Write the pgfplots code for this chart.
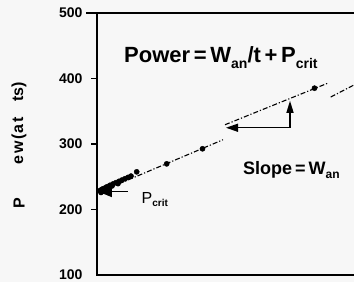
\documentclass[border=0pt]{standalone}
\usepackage{pgfplots}
\pgfplotsset{compat=1.18}
\usepackage{fontspec}
\setmainfont{Liberation Sans}
\usetikzlibrary{arrows.meta}
\begin{document}
\begin{tikzpicture}[x=1pt,y=1pt]
\path[use as bounding box, clip] (0,0) rectangle (354,282);
\fill[white!97!black] (0,0) rectangle (354,282);
\begin{axis}[
  at={(97pt,7pt)}, anchor=south west,
  scale only axis, width=300pt, height=262pt,
  xmin=0, xmax=3, ymin=100, ymax=500,
  xtick=\empty,
  ytick={100,200,300,400,500},
  major tick length=0pt,
  /pgf/number format/assume math mode=true,
  yticklabel style={font=\fontsize{14}{14}\selectfont\bfseries, xshift=-11pt},
  axis line style={line width=1.3pt},
  clip=false,
]
% fitted line, drawn in three offset pieces as in the original
\addplot[black, line width=1.1pt, dash pattern=on 5pt off 2pt on 1.2pt off 2pt]
  coordinates {(0.03,227) (1.26,306.5)};
\addplot[black, line width=1.1pt, dash pattern=on 5pt off 2pt on 1.2pt off 2pt]
  coordinates {(1.28,329.4) (2.32,393.6)};
\addplot[black, line width=1.1pt, dash pattern=on 5pt off 2pt on 1.2pt off 2pt]
  coordinates {(2.337,371.7) (2.60,392.5)};
% data points
\addplot[only marks, mark=*, mark size=2.6pt, black] coordinates {
 (0.03,229) (0.04,226) (0.05,231) (0.06,228) (0.07,232) (0.08,230) (0.09,234)
 (0.11,235) (0.12,233) (0.13,237) (0.15,236)
 (0.16,239) (0.19,241) (0.21,239.5) (0.22,243) (0.25,245) (0.28,247) (0.31,249)
 (0.34,251) (0.397,257.5) (0.697,269.7) (1.055,292.7) (2.175,385.2)};
% ticks
\draw[line width=1.3pt] (axis cs:0,200) -- ++(-6pt,0pt);
\draw[line width=1.3pt] (axis cs:0,300) -- ++(-6pt,0pt);
\draw[line width=1.3pt] (axis cs:0,400) -- ++(-6pt,0pt);
\draw[line width=1.3pt] (axis cs:0,500) -- ++(-11pt,0pt);
% P_crit arrow
\draw[line width=1.3pt, -{Triangle[length=14pt,width=11pt]}] (axis cs:0.31,227.4) -- (axis cs:0.01,227.4);
% slope triangle
\draw[line width=1.3pt, -{Triangle[length=12pt,width=8pt]}] (axis cs:1.93,324.8) -- (axis cs:1.29,324.8);
\draw[line width=1.3pt, -{Triangle[length=12pt,width=7pt]}] (axis cs:1.93,324.8) -- (axis cs:1.93,366);
\end{axis}
\node[anchor=base west, inner sep=0] at (124,219)
  {\fontsize{22}{26}\selectfont\bfseries Power\,=\,W\raisebox{-5pt}{\fontsize{14}{14}\selectfont an}/t\,+\,P\raisebox{-5pt}{\fontsize{14}{14}\selectfont crit}};
\node[anchor=base west, inner sep=0] at (243,108)
  {\fontsize{18}{20}\selectfont\bfseries Slope\,=\,W\raisebox{-4pt}{\fontsize{12}{12}\selectfont an}};
\node[anchor=base west, inner sep=0] at (141.5,79)
  {\fontsize{16}{18}\selectfont P\raisebox{-3pt}{\fontsize{10}{10}\selectfont\bfseries crit}};
\node[rotate=90, inner sep=0] at (19,79) {\fontsize{16}{18}\selectfont\bfseries P};
\node[rotate=90, inner sep=0] at (19,141) {\fontsize{16}{18}\selectfont\bfseries e\kern2pt w\kern2pt (a\kern2pt t};
\node[rotate=90, inner sep=0] at (19,190) {\fontsize{16}{18}\selectfont\bfseries ts)};
\end{tikzpicture}
\end{document}
